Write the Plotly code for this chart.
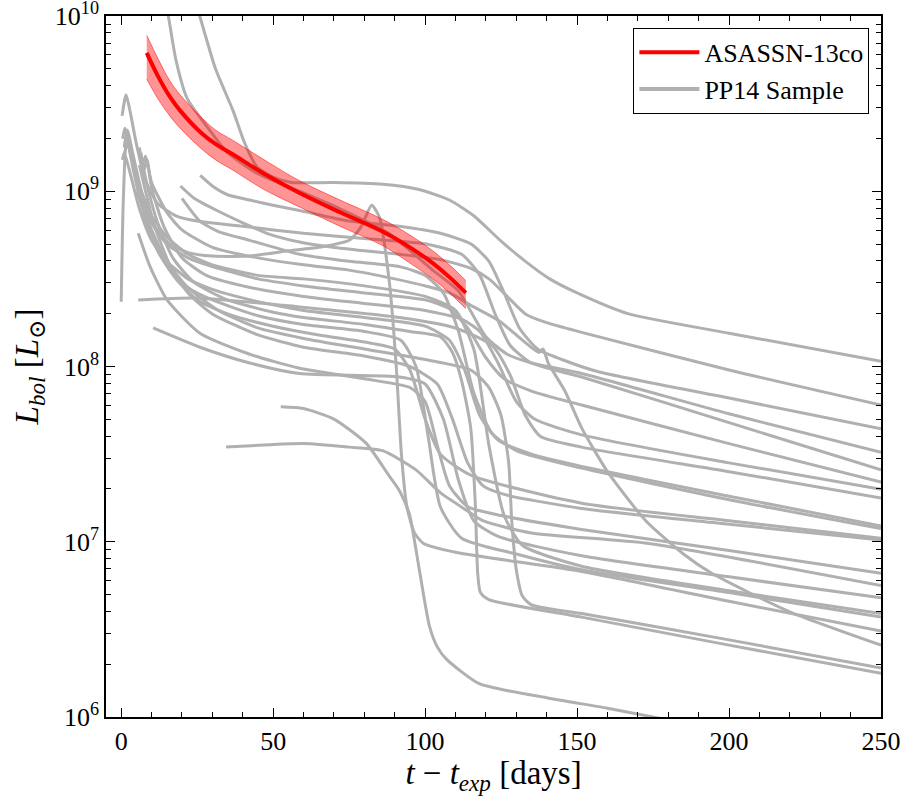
import plotly.graph_objects as go

# ---------------- DATA ----------------
# ASASSN-13co bolometric light curve (days since explosion, log10 L/Lsun)
asassn_t = [8.4, 12, 16, 19.4, 25.9, 31, 36.8, 47, 58.7, 72, 86, 95, 102.5, 108, 113.4]
asassn_logL = [9.79, 9.66, 9.54, 9.46, 9.34, 9.27, 9.21, 9.10, 8.99, 8.88, 8.77, 8.68, 8.59, 8.51, 8.42]
asassn_logL_hi = [9.89, 9.76, 9.63, 9.55, 9.43, 9.35, 9.29, 9.18, 9.06, 8.95, 8.84, 8.75, 8.66, 8.58, 8.49]
asassn_logL_lo = [9.64, 9.53, 9.43, 9.36, 9.25, 9.18, 9.12, 9.01, 8.91, 8.80, 8.69, 8.59, 8.50, 8.42, 8.33]

# PP14 sample light curves
c01_t = [24, 26, 31, 36.8, 40.5, 44.6, 50, 56, 70, 86, 98, 108, 116, 124.7, 133, 141, 150, 167, 200, 250]
c01_logL = [10.1, 9.99, 9.7, 9.46, 9.28, 9.14, 9.08, 9.05, 9.05, 9.04, 9.01, 8.95, 8.86, 8.72, 8.6, 8.5, 8.42, 8.30, 8.19, 8.03]

c02_t = [13.5, 15.5, 18, 21.7, 28.2, 35, 45, 58.7, 72, 88, 102.5, 111, 120, 127, 135, 151.5, 200, 250]
c02_logL = [10.15, 10.0, 9.75, 9.53, 9.37, 9.22, 9.1, 9.0, 8.9, 8.76, 8.55, 8.43, 8.17, 8.07, 8.02, 7.96, 7.73, 7.51]

c03_t = [26, 30, 35, 42.3, 50, 58.7, 75, 91.6, 105, 115, 121, 126, 131, 137, 145, 157, 200, 250]
c03_logL = [9.09, 9.03, 8.98, 8.95, 8.92, 8.89, 8.83, 8.8, 8.76, 8.7, 8.6, 8.42, 8.22, 8.1, 8.04, 7.97, 7.82, 7.645]

c04_t = [19.5, 24, 31.5, 40, 47.9, 58.7, 69.6, 80, 91.6, 105, 115, 121, 127, 133, 140, 151.5, 200, 250]
c04_logL = [9.03, 8.96, 8.89, 8.82, 8.76, 8.71, 8.68, 8.66, 8.64, 8.61, 8.56, 8.5, 8.4, 8.3, 8.25, 8.195, 7.98, 7.78]

c05_t = [20, 25.9, 32, 42.3, 58.7, 75, 91.6, 100, 106, 111, 116, 122, 130, 151.5, 200, 250]
c05_logL = [8.96, 8.83, 8.77, 8.72, 8.64, 8.6, 8.57, 8.52, 8.42, 8.2, 7.85, 7.62, 7.52, 7.42, 7.24, 7.075]

c06_t = [1, 2, 4, 7, 11, 16, 22, 30, 42, 55, 65, 75, 79, 82.4, 85, 88.3, 90.5, 92.2, 94, 96.5, 99.5, 110, 151.5, 200, 250]
c06_logL = [9.25, 9.35, 9.2, 8.98, 8.8, 8.7, 8.65, 8.63, 8.63, 8.66, 8.68, 8.72, 8.8, 8.92, 8.85, 8.47, 8.0, 7.5, 7.2, 7.05, 6.99, 6.94, 6.83, 6.66, 6.49]

c07_t = [52.5, 60, 70, 80.7, 88, 91.6, 94.8, 98, 101.4, 104, 107, 117.8, 140, 160, 178]
c07_logL = [7.77, 7.76, 7.70, 7.56, 7.38, 7.29, 7.16, 6.85, 6.52, 6.40, 6.33, 6.19, 6.11, 6.05, 5.99]

c08_t = [34.5, 45, 60, 75, 86, 97, 105, 113.6, 119, 135, 173.6, 250]
c08_logL = [7.54, 7.55, 7.56, 7.54, 7.52, 7.41, 7.28, 7.18, 7.12, 7.05, 6.99, 6.75]

c09_t = [0.3, 1.6, 3, 5, 8, 12, 18, 25, 40, 60, 80, 100, 112, 118, 123, 128, 135, 151.5, 200, 250]
c09_logL = [9.43, 9.55, 9.45, 9.27, 9.06, 8.93, 8.86, 8.83, 8.8, 8.76, 8.73, 8.7, 8.64, 8.52, 8.3, 8.12, 8.02, 7.94, 7.68, 7.41]

c10_t = [0.5, 1.2, 3, 6, 10, 15, 22, 30, 45, 60, 80, 100, 108, 114, 120, 126, 135, 151.5, 200, 250]
c10_logL = [9.3, 9.36, 9.22, 9.0, 8.82, 8.7, 8.62, 8.57, 8.5, 8.46, 8.42, 8.38, 8.33, 8.22, 8.05, 7.93, 7.86, 7.78, 7.56, 7.34]

c11_t = [0.4, 1, 3, 6, 10, 15, 22, 30, 45, 60, 80, 100, 108, 113, 118, 124, 135, 151.5, 200, 250]
c11_logL = [9.18, 9.22, 9.1, 8.9, 8.72, 8.6, 8.5, 8.44, 8.37, 8.32, 8.28, 8.23, 8.15, 7.98, 7.72, 7.58, 7.5, 7.43, 7.26, 7.09]

c12_t = [0, 0.7, 1.8, 3, 5, 8, 12, 18, 25, 35, 50, 65, 80, 90, 95, 100, 105, 115, 151.5, 200, 250]
c12_logL = [8.37, 8.95, 9.3, 9.25, 9.05, 8.85, 8.66, 8.5, 8.38, 8.3, 8.23, 8.18, 8.14, 8.1, 7.98, 7.7, 7.5, 7.38, 7.22, 7.12, 7.02]

c13_t = [1, 2, 4, 7, 11, 16, 22, 30, 45, 60, 80, 92, 97, 101, 105, 112, 130, 151.5, 200, 250]
c13_logL = [9.2, 9.28, 9.12, 8.9, 8.7, 8.55, 8.45, 8.38, 8.29, 8.24, 8.2, 8.15, 8.0, 7.6, 7.2, 7.02, 6.93, 6.84, 6.71, 6.57]

c14_t = [6, 7, 8, 10, 15, 20, 30, 45, 60, 75, 90, 100, 108, 116, 124.4, 130, 137.5, 138.8, 140.5, 146, 151.5, 160, 172.6, 185, 194.3, 220, 250]
c14_logL = [9.25, 9.15, 9.2, 9.05, 8.88, 8.78, 8.68, 8.62, 8.58, 8.55, 8.5, 8.46, 8.42, 8.34, 8.26, 8.18, 8.08, 8.10, 8.02, 7.86, 7.65, 7.4, 7.12, 6.93, 6.82, 6.6, 6.41]

c15_t = [6.5, 7.5, 8.5, 10, 14, 20, 28, 40, 60, 80, 100, 112, 118, 124, 130, 136, 151.5, 200, 250]
c15_logL = [9.22, 9.12, 9.18, 9.02, 8.8, 8.62, 8.52, 8.46, 8.4, 8.36, 8.32, 8.27, 8.2, 8.02, 7.8, 7.7, 7.61, 7.45, 7.30]

c16_t = [7.5, 9, 12, 17, 24, 35, 50, 60, 80, 95, 105, 109, 112, 115, 116.5, 117.3, 118.2, 121, 151.5, 200, 250]
c16_logL = [9.12, 9.0, 8.82, 8.62, 8.48, 8.38, 8.31, 8.28, 8.24, 8.2, 8.17, 8.08, 7.92, 7.65, 7.22, 6.82, 6.71, 6.67, 6.57, 6.41, 6.25]

c17_t = [5, 7, 10, 15, 22, 32, 45, 60, 80, 100, 115, 121, 125, 127.5, 128.5, 130, 132, 135, 151.5, 200, 250]
c17_logL = [9.0, 8.92, 8.78, 8.6, 8.45, 8.32, 8.22, 8.16, 8.1, 8.04, 7.98, 7.88, 7.72, 7.45, 7.12, 6.84, 6.69, 6.64, 6.59, 6.44, 6.28]

c18_t = [6, 8, 11, 16, 22, 30, 45, 60, 80, 95, 104, 109, 114, 119, 126, 151.5, 200, 250]
c18_logL = [9.15, 9.0, 8.8, 8.58, 8.42, 8.3, 8.18, 8.11, 8.06, 8.0, 7.9, 7.7, 7.45, 7.32, 7.27, 7.19, 7.1, 7.01]

c19_t = [5.5, 7, 10, 15, 22, 30, 45, 60, 80, 100, 110, 116, 121, 126, 132, 151.5, 200, 250]
c19_logL = [9.05, 8.98, 8.86, 8.74, 8.64, 8.58, 8.52, 8.5, 8.46, 8.4, 8.32, 8.1, 7.55, 7.15, 6.98, 6.86, 6.72, 6.59]

c20_t = [5.6, 9.5, 15.1, 25.9, 42.3, 58.7, 80, 95, 100, 104, 108, 114, 125, 151.5, 200, 250]
c20_logL = [8.76, 8.57, 8.38, 8.19, 8.07, 7.99, 7.93, 7.88, 7.8, 7.55, 7.32, 7.2, 7.15, 7.07, 6.95, 6.82]

c21_t = [5.6, 25.9, 58.7, 91.6, 110, 122, 128, 133, 138, 151.5, 200, 250]
c21_logL = [8.38, 8.39, 8.34, 8.28, 8.22, 8.12, 7.95, 7.72, 7.6, 7.54, 7.4, 7.25]

c22_t = [10.5, 25.9, 42.3, 58.7, 91.6, 100, 106, 111, 116, 124, 151.5, 200, 250]
c22_logL = [8.22, 8.11, 8.02, 7.96, 7.94, 7.9, 7.7, 7.35, 7.12, 7.03, 6.92, 6.8, 6.68]

pp14_curves = [
    (c01_t, c01_logL), (c02_t, c02_logL), (c03_t, c03_logL), (c04_t, c04_logL),
    (c05_t, c05_logL), (c06_t, c06_logL), (c07_t, c07_logL), (c08_t, c08_logL),
    (c09_t, c09_logL), (c10_t, c10_logL), (c11_t, c11_logL), (c12_t, c12_logL),
    (c13_t, c13_logL), (c14_t, c14_logL), (c15_t, c15_logL), (c16_t, c16_logL),
    (c17_t, c17_logL), (c18_t, c18_logL), (c19_t, c19_logL), (c20_t, c20_logL),
    (c21_t, c21_logL), (c22_t, c22_logL),
]

y_tick_vals = [1e6, 1e7, 1e8, 1e9, 1e10]
y_tick_text = ["10<sup>6</sup>", "10<sup>7</sup>", "10<sup>8</sup>", "10<sup>9</sup>", "10<sup>10</sup>"]
x_tick_vals = [0, 50, 100, 150, 200, 250]

# ---------------- FIGURE ----------------
FONT = "Liberation Serif, DejaVu Serif, serif"
GRAY = "#b0b0b0"
RED = "#ff0000"

fig = go.Figure()

for i, (t, lg) in enumerate(pp14_curves):
    fig.add_trace(go.Scatter(
        x=t, y=[10 ** v for v in lg], mode="lines",
        line=dict(color=GRAY, width=3, shape="spline", smoothing=0.6),
        name="PP14 Sample", showlegend=False, hoverinfo="skip",
    ))

# error band
fig.add_trace(go.Scatter(
    x=asassn_t, y=[10 ** v for v in asassn_logL_hi], mode="lines",
    line=dict(color="rgba(255,0,0,0.5)", width=1, shape="spline"),
    showlegend=False, hoverinfo="skip",
))
fig.add_trace(go.Scatter(
    x=asassn_t, y=[10 ** v for v in asassn_logL_lo], mode="lines",
    line=dict(color="rgba(255,0,0,0.5)", width=1, shape="spline"),
    fill="tonexty", fillcolor="rgba(255,0,0,0.42)",
    showlegend=False, hoverinfo="skip",
))
fig.add_trace(go.Scatter(
    x=asassn_t, y=[10 ** v for v in asassn_logL], mode="lines",
    line=dict(color=RED, width=4, shape="spline"),
    name="ASASSN-13co", legendrank=1,
))
# legend entry for gray sample
fig.add_trace(go.Scatter(
    x=[None], y=[None], mode="lines",
    line=dict(color=GRAY, width=4), name="PP14 Sample", legendrank=2,
))

minor_y = [k * 10 ** n for n in range(6, 10) for k in range(2, 10)]

fig.update_layout(
    width=904, height=796,
    margin=dict(l=106, r=23, t=16, b=79),
    paper_bgcolor="white", plot_bgcolor="white",
    font=dict(family=FONT, color="black", size=26),
    legend=dict(
        x=0.985, y=0.983, xanchor="right", yanchor="top",
        bordercolor="black", borderwidth=1, bgcolor="white",
        font=dict(family=FONT, size=26), tracegroupgap=0,
        traceorder="normal", itemwidth=60,
    ),
    xaxis=dict(
        range=[-5, 250], tickvals=x_tick_vals, ticks="inside", ticklen=9,
        tickwidth=1, tickcolor="black", showline=True, linecolor="black",
        linewidth=1.5, mirror="allticks", showgrid=False, zeroline=False,
        minor=dict(ticks="inside", dtick=10, ticklen=5, tickcolor="black", showgrid=False),
        tickfont=dict(size=26), automargin=False, ticklabeloverflow="allow",
        title=dict(text="<i>t</i> − <i>t</i><sub><i>exp</i></sub> [days]",
                   font=dict(size=33), standoff=0),
    ),
    yaxis=dict(
        type="log", range=[6, 10], tickvals=y_tick_vals, ticktext=y_tick_text,
        ticks="inside", ticklen=9, tickwidth=1, tickcolor="black",
        showline=True, linecolor="black", linewidth=1.5, mirror="allticks",
        showgrid=False, zeroline=False,
        minor=dict(ticks="inside", tickvals=minor_y, ticklen=5, tickcolor="black", showgrid=False),
        tickfont=dict(size=26), automargin=False, ticklabeloverflow="allow",
        title=dict(text="<i>L</i><sub><i>bol</i></sub> [<i>L</i><sub>⊙</sub>]",
                   font=dict(size=33), standoff=6),
    ),
)

fig.write_html("out.html", config={"displayModeBar": False},
               post_script="document.body.style.margin='0';document.body.style.overflow='hidden';")
